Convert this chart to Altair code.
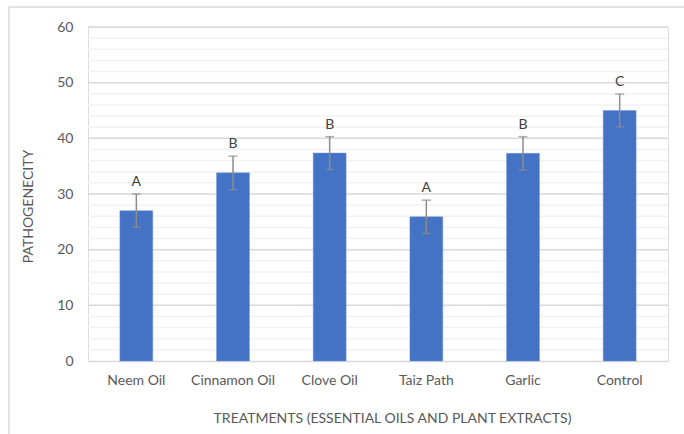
import altair as alt
import pandas as pd

treatments = ["Neem Oil", "Cinnamon Oil", "Clove Oil", "Taiz Path", "Garlic", "Control"]
means = [27.0, 33.8, 37.35, 25.9, 37.3, 45.0]
errors = [3.0, 3.0, 2.95, 3.0, 3.0, 2.95]
letters = ["A", "B", "B", "A", "B", "C"]
major_ticks = [0, 10, 20, 30, 40, 50, 60]
minor_ticks = [v for v in range(2, 60, 2) if v % 10 != 0]

df = pd.DataFrame({"t": treatments, "m": means, "e": errors, "g": letters})
df["lo"] = df["m"] - df["e"]
df["hi"] = df["m"] + df["e"]

FONT = "Lato"
LABEL = "#595959"
yscale = alt.Scale(domain=[0, 60], nice=False)
xscale = alt.Scale(paddingInner=0.66, paddingOuter=0.33)

yaxis = alt.Axis(values=major_ticks, title="PATHOGENECITY", grid=False,
                 labelOverlap=False,
                 labelFont=FONT, labelFontSize=14, labelColor=LABEL, labelPadding=15,
                 ticks=False, domain=False,
                 titleFont=FONT, titleFontSize=14, titleFontWeight="normal",
                 titleColor=LABEL, titleX=-60, titleY=179, titleAngle=270,
                 titleAlign="center", titleBaseline="middle")
xaxis = alt.Axis(title="TREATMENTS (ESSENTIAL OILS AND PLANT EXTRACTS)",
                 labelAngle=0, labelFont=FONT, labelFontSize=14, labelColor=LABEL,
                 labelPadding=12, ticks=False, domainColor="#D9D9D9", domainWidth=1.5,
                 grid=False,
                 titleFont=FONT, titleFontSize=14, titleFontWeight="normal",
                 titleColor=LABEL, titleX=304, titleY=57,
                 titleAlign="center", titleBaseline="middle")


def Y(field):
    return alt.Y(field, scale=yscale, axis=yaxis, title="PATHOGENECITY")


xn = alt.X("t:N", sort=treatments, scale=xscale, axis=xaxis,
           title="TREATMENTS (ESSENTIAL OILS AND PLANT EXTRACTS)")

minor_grid = alt.Chart(pd.DataFrame({"v": minor_ticks})).mark_rule(
    color="#F2F2F2", strokeWidth=1.5).encode(y=Y("v:Q"))
major_grid = alt.Chart(pd.DataFrame({"v": major_ticks[1:]})).mark_rule(
    color="#D9D9D9", strokeWidth=1.5).encode(y=Y("v:Q"))

bars = alt.Chart(df).mark_bar(color="#4472C4", stroke="#6E93D6", strokeWidth=0.5).encode(
    x=xn, y=Y("m:Q"))
err = alt.Chart(df).mark_rule(color="#8C8C8C", strokeWidth=1.5).encode(
    x=xn, y=Y("lo:Q"), y2="hi:Q")
cap_hi = alt.Chart(df).mark_tick(color="#8C8C8C", thickness=1.5, size=9, orient="horizontal").encode(
    x=xn, y=Y("hi:Q"))
cap_lo = alt.Chart(df).mark_tick(color="#8C8C8C", thickness=1.5, size=9, orient="horizontal").encode(
    x=xn, y=Y("lo:Q"))
txt = alt.Chart(df).mark_text(font=FONT, fontSize=14, color="#404040",
                              baseline="alphabetic", dy=-8).encode(
    x=xn, y=Y("hi:Q"), text="g:N")

frame_df = pd.DataFrame({"k": [0]})
left_border = alt.Chart(frame_df).mark_rule(color="#D9D9D9", strokeWidth=1.5).encode(
    x=alt.value(-79), y=alt.value(-20), y2=alt.value(73 + 334))
top_border = alt.Chart(frame_df).mark_rule(color="#D9D9D9", strokeWidth=1.5).encode(
    x=alt.value(-79), x2=alt.value(596), y=alt.value(-20))

chart = alt.layer(minor_grid, major_grid, bars, err, cap_hi, cap_lo, txt,
                  left_border, top_border).properties(
    width=580, height=334,
    autosize=alt.AutoSizeParams(type="none"),
    padding={"left": 88, "top": 27, "right": 16, "bottom": 73},
).configure_view(stroke=None).configure(background="white")

chart.save("out.html", embed_options={"renderer": "svg", "actions": False})
